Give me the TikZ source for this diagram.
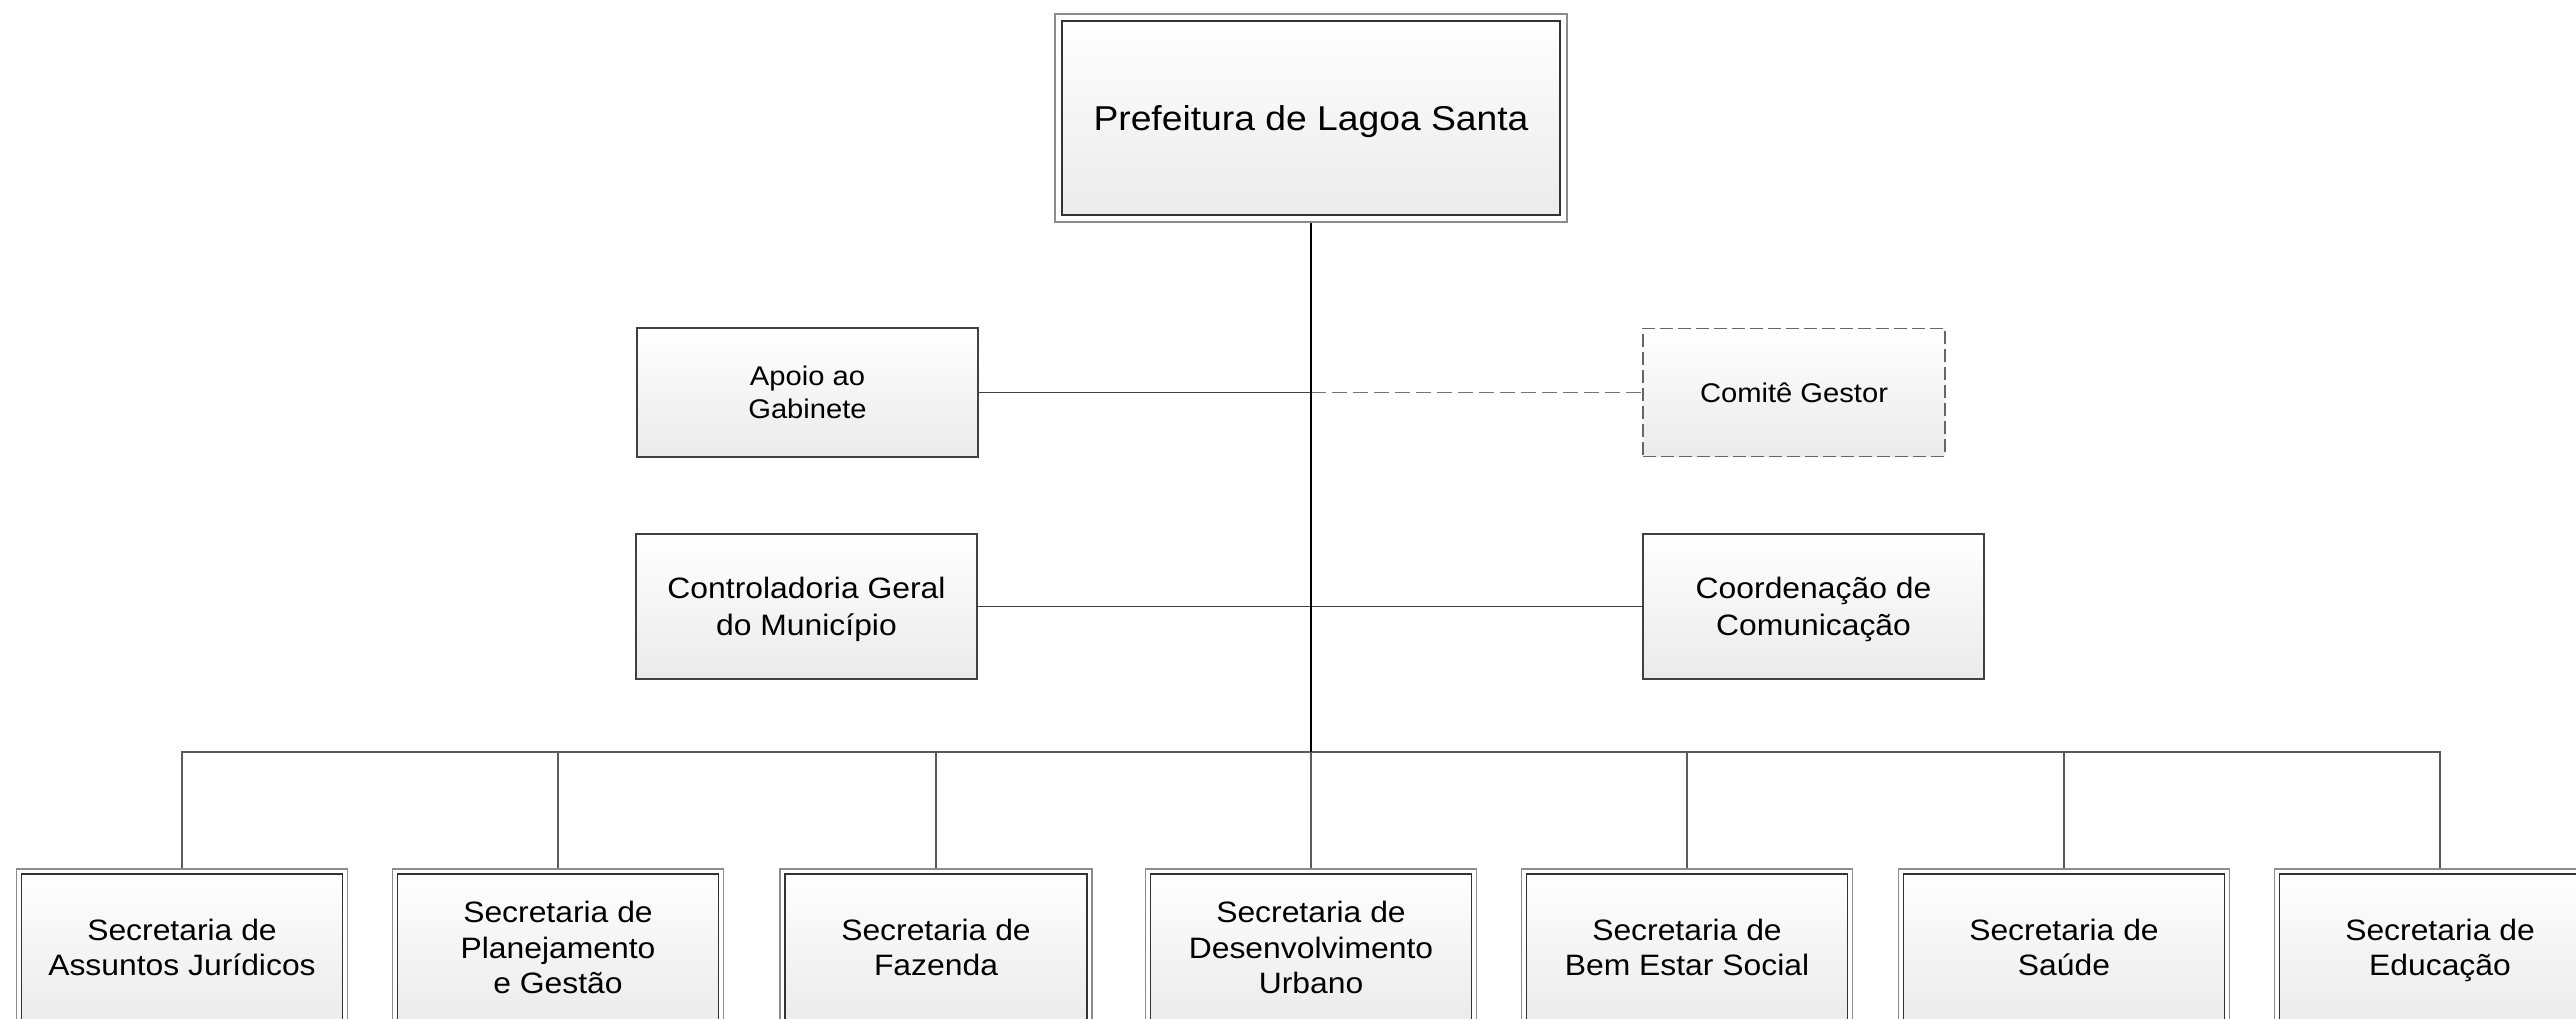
\documentclass[tikz,border=0pt]{standalone}
\usepackage{fontspec}
\setmainfont{Liberation Sans}[FakeStretch=1.08]
\usepackage{tikz}
\usetikzlibrary{calc}

\tikzset{
  % double framed box (prefeitura and secretarias)
  dblbox/.style={draw=black!45, line width=1.2pt, fill=white, inner sep=0pt, align=center,
    text depth=0pt,
    path picture={
      \shade[top color=white, bottom color=black!8]
        ([shift={(#1pt,-#1pt)}]path picture bounding box.north west) rectangle
        ([shift={(-#1pt,#1pt)}]path picture bounding box.south east);
      \draw[black!80, line width=1.5pt]
        ([shift={(#1pt,-#1pt)}]path picture bounding box.north west) rectangle
        ([shift={(-#1pt,#1pt)}]path picture bounding box.south east);}},
  secbox/.style={dblbox=5, minimum width=331pt, minimum height=157pt,
    font=\fontsize{29.5}{35.5}\selectfont},
  sidebox/.style={draw=black!75, line width=1.4pt, top color=white, bottom color=black!8,
    inner sep=0pt, align=center, text depth=0pt, minimum width=341pt},
  dashbox/.style={sidebox, draw=black!60, dash pattern=on 13pt off 5pt},
  link/.style={black!65, line width=1.4pt}
}

\begin{document}
\begin{tikzpicture}[x=1pt,y=1pt]
\useasboundingbox (0,0) rectangle (2576,1019);

% Prefeitura
\node[dblbox=7, minimum width=512pt, minimum height=208pt,
  font=\fontsize{34.5}{40}\selectfont] (pref) at (1311,901) {Prefeitura de Lagoa Santa};

% Assessorias
\node[sidebox, minimum height=129pt, font=\fontsize{27}{33}\selectfont]
  (apoio) at (807.5,626.5) {Apoio ao\\Gabinete};
\node[dashbox, minimum width=302pt, minimum height=128pt, font=\fontsize{27}{33}\selectfont]
  (comite) at (1794,626.5) {Comitê Gestor};
\node[sidebox, minimum height=145pt, font=\fontsize{29.5}{36.5}\selectfont]
  (control) at (806.5,412.5) {Controladoria Geral\\do Município};
\node[sidebox, minimum height=145pt, font=\fontsize{29.5}{36.5}\selectfont]
  (comunic) at (1813.5,412.5) {Coordenação de\\Comunicação};

% Secretarias
\node[secbox] (juridico) at (182,71.5) {Secretaria de\\Assuntos Jurídicos};
\node[secbox] (planej) at (558,71.5) {Secretaria de\\Planejamento\\e Gestão};
\node[secbox, minimum width=312pt] (fazenda) at (936,71.5) {Secretaria de\\Fazenda};
\node[secbox] (desenv) at (1311,71.5) {Secretaria de\\Desenvolvimento\\Urbano};
\node[secbox] (social) at (1687,71.5) {Secretaria de\\Bem Estar Social};
\node[secbox] (saude) at (2064,71.5) {Secretaria de\\Saúde};
\node[secbox] (educa) at (2440,71.5) {Secretaria de\\Educação};

% Connectors
\coordinate (bus) at (1311,267);
\draw[link] (bus) -| (juridico.north);
\draw[link] (bus) -| (planej.north);
\draw[link] (bus) -| (fazenda.north);
\draw[link] (bus) -- (desenv.north);
\draw[link] (bus) -| (social.north);
\draw[link] (bus) -| (saude.north);
\draw[link] (bus) -| (educa.north);

\draw[link, black!75] (apoio.east) -- (apoio.east -| pref.south);
\draw[black!55, line width=1.4pt, dash pattern=on 15pt off 6pt]
  (apoio.east -| pref.south) -- (comite.west);
\draw[link, black!75] (control.east) -- (comunic.west);

\draw[black, line width=2pt] (pref.south) -- (bus);

\end{tikzpicture}
\end{document}
